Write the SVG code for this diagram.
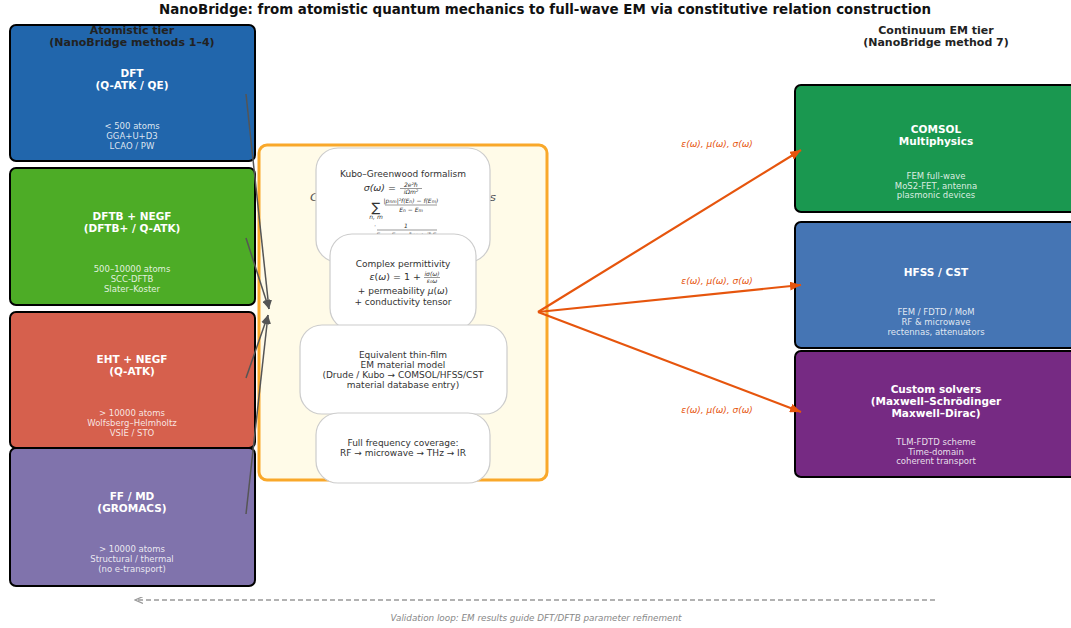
<svg xmlns="http://www.w3.org/2000/svg" width="1071" height="628" viewBox="0 0 1071 628">
<style>
text{font-family:"DejaVu Sans","Liberation Sans",sans-serif}
.title{font-size:13.4px;font-weight:bold;fill:#111}
.hdr{font-size:11px;font-weight:bold;fill:#222}
.bt{font-size:10.5px;font-weight:bold;fill:#fff}
.bs{font-size:8.5px;fill:#fff;fill-opacity:0.85}
.box{stroke:#000;stroke-width:2}
.inner{fill:#fff;stroke:#ccc;stroke-width:1.2}
.it{font-size:9px;fill:#333}
.m{font-size:6px;fill:#333;font-style:italic}
.lab{font-size:9px;fill:#e6550d;font-style:italic}
.gc{stroke:#555;stroke-width:1.5;fill:none}
.oc{stroke:#e6550d;stroke-width:2.2;fill:none}
</style>
<defs>
<marker id="ga" markerUnits="userSpaceOnUse" markerWidth="10" markerHeight="8" refX="9" refY="4" orient="auto"><path d="M0,0 L9,4 L0,8 z" fill="#555"/></marker>
<marker id="oa" markerUnits="userSpaceOnUse" markerWidth="12" markerHeight="9" refX="11" refY="4.5" orient="auto"><path d="M0,0 L11,4.5 L0,9 z" fill="#e6550d"/></marker>
<marker id="da" markerUnits="userSpaceOnUse" markerWidth="9" markerHeight="7" refX="8" refY="3.5" orient="auto"><path d="M0,0 L8,3.5 L0,7" fill="none" stroke="#999" stroke-width="1.2"/></marker>
</defs>
<rect width="1071" height="628" fill="#fff"/>
<text class="title" x="545" y="14" text-anchor="middle">NanoBridge: from atomistic quantum mechanics to full-wave EM via constitutive relation construction</text>

<g id="dft">
<rect class="box" x="10" y="25" width="245" height="136" rx="6" fill="#2166ac"/>
<text class="bt" x="132" y="77" text-anchor="middle">DFT</text>
<text class="bt" x="132" y="89" text-anchor="middle">(Q-ATK / QE)</text>
<text class="bs" x="132" y="129" text-anchor="middle">&lt; 500 atoms</text>
<text class="bs" x="132" y="139" text-anchor="middle">GGA+U+D3</text>
<text class="bs" x="132" y="149" text-anchor="middle">LCAO / PW</text>
</g>
<g id="dftb">
<rect class="box" x="10" y="168" width="245" height="137" rx="6" fill="#4dac26"/>
<text class="bt" x="132" y="220" text-anchor="middle">DFTB + NEGF</text>
<text class="bt" x="132" y="232" text-anchor="middle">(DFTB+ / Q-ATK)</text>
<text class="bs" x="132" y="272" text-anchor="middle">500–10000 atoms</text>
<text class="bs" x="132" y="282" text-anchor="middle">SCC-DFTB</text>
<text class="bs" x="132" y="292" text-anchor="middle">Slater–Koster</text>
</g>
<g id="eht">
<rect class="box" x="10" y="312" width="245" height="136" rx="6" fill="#d6604d"/>
<text class="bt" x="132" y="363" text-anchor="middle">EHT + NEGF</text>
<text class="bt" x="132" y="375" text-anchor="middle">(Q-ATK)</text>
<text class="bs" x="132" y="416" text-anchor="middle">&gt; 10000 atoms</text>
<text class="bs" x="132" y="426" text-anchor="middle">Wolfsberg–Helmholtz</text>
<text class="bs" x="132" y="436" text-anchor="middle">VSIE / STO</text>
</g>
<g id="ffmd">
<rect class="box" x="10" y="448" width="245" height="138" rx="6" fill="#8073ac"/>
<text class="bt" x="132" y="500" text-anchor="middle">FF / MD</text>
<text class="bt" x="132" y="512" text-anchor="middle">(GROMACS)</text>
<text class="bs" x="132" y="552" text-anchor="middle">&gt; 10000 atoms</text>
<text class="bs" x="132" y="562" text-anchor="middle">Structural / thermal</text>
<text class="bs" x="132" y="572" text-anchor="middle">(no e-transport)</text>
</g>
<g id="hdr-left">
<text class="hdr" x="132" y="34" text-anchor="middle">Atomistic tier</text>
<text class="hdr" x="132" y="46" text-anchor="middle">(NanoBridge methods 1–4)</text>
</g>
<g id="hdr-right">
<text class="hdr" x="936" y="34" text-anchor="middle">Continuum EM tier</text>
<text class="hdr" x="936" y="46" text-anchor="middle">(NanoBridge method 7)</text>
</g>

<g id="constitutive">
<rect x="259" y="145" width="288" height="335" rx="8" fill="#fffbe8" stroke="#f9a82a" stroke-width="3"/>
<text x="403" y="201" text-anchor="middle" textLength="186" lengthAdjust="spacingAndGlyphs" style="font-size:10.5px;fill:#555;font-style:italic">Constitutive relation methods</text>
</g>
<g id="kubo">
<rect class="inner" x="316" y="148" width="174" height="114" rx="22"/>
<text class="it" x="403" y="177" text-anchor="middle">Kubo–Greenwood formalism</text>
<text x="396" y="191" text-anchor="end" style="font-size:9.5px;fill:#333;font-style:italic">σ(ω) =</text>
<text class="m" x="411" y="187" text-anchor="middle">2e²ħ</text>
<line x1="400" y1="188.5" x2="422" y2="188.5" stroke="#333" stroke-width="0.5"/>
<text class="m" x="411" y="194" text-anchor="middle">iΩm²</text>
<text x="376" y="212" text-anchor="middle" style="font-size:13px;fill:#333">∑</text>
<text class="m" x="376" y="219" text-anchor="middle">n, m</text>
<text class="m" x="411" y="203" text-anchor="middle">|p<tspan font-size="4.5">nm</tspan>|²f(E<tspan font-size="4.5">n</tspan>) − f(E<tspan font-size="4.5">m</tspan>)</text>
<line x1="385" y1="205" x2="437" y2="205" stroke="#333" stroke-width="0.5"/>
<text class="m" x="411" y="212" text-anchor="middle">E<tspan font-size="4.5">n</tspan> − E<tspan font-size="4.5">m</tspan></text>
<text class="m" x="374" y="228">·</text>
<text class="m" x="406" y="228" text-anchor="middle">1</text>
<line x1="377" y1="230" x2="437" y2="230" stroke="#333" stroke-width="0.5"/>
<text class="m" x="406" y="237" text-anchor="middle">E<tspan font-size="4.5">n</tspan> − E<tspan font-size="4.5">m</tspan> − ħω + iħΓ</text>
</g>
<g id="permittivity">
<rect class="inner" x="330" y="234" width="146" height="96" rx="22"/>
<text class="it" x="403" y="267" text-anchor="middle">Complex permittivity</text>
<text x="421" y="280" text-anchor="end" style="font-size:9.5px;fill:#333"><tspan font-style="italic">ε</tspan>(<tspan font-style="italic">ω</tspan>) = 1 +</text>
<text class="m" x="432" y="276" text-anchor="middle">iσ(ω)</text>
<line x1="424" y1="277.5" x2="440" y2="277.5" stroke="#333" stroke-width="0.5"/>
<text class="m" x="432" y="283" text-anchor="middle">ε₀ω</text>
<text class="it" x="403" y="294" text-anchor="middle">+ permeability  <tspan font-style="italic">μ</tspan>(<tspan font-style="italic">ω</tspan>)</text>
<text class="it" x="403" y="305" text-anchor="middle">+ conductivity tensor</text>
</g>
<g id="equivalent">
<rect class="inner" x="300" y="325" width="207" height="89" rx="22"/>
<text class="it" x="403" y="358" text-anchor="middle">Equivalent thin-film</text>
<text class="it" x="403" y="368" text-anchor="middle">EM material model</text>
<text class="it" x="403" y="378" text-anchor="middle">(Drude / Kubo → COMSOL/HFSS/CST</text>
<text class="it" x="403" y="388" text-anchor="middle">material database entry)</text>
</g>
<g id="frequency">
<rect class="inner" x="316" y="413" width="174" height="70" rx="22"/>
<text class="it" x="403" y="446" text-anchor="middle">Full frequency coverage:</text>
<text class="it" x="403" y="456" text-anchor="middle">RF → microwave → THz → IR</text>
</g>

<g id="comsol">
<rect class="box" x="795" y="85" width="284" height="127" rx="6" fill="#1a9850"/>
<text class="bt" x="936" y="133" text-anchor="middle">COMSOL</text>
<text class="bt" x="936" y="145" text-anchor="middle">Multiphysics</text>
<text class="bs" x="936" y="179" text-anchor="middle">FEM full-wave</text>
<text class="bs" x="936" y="189" text-anchor="middle">MoS2-FET, antenna</text>
<text class="bs" x="936" y="198" text-anchor="middle">plasmonic devices</text>
</g>
<g id="hfss">
<rect class="box" x="795" y="222" width="284" height="126" rx="6" fill="#4575b4"/>
<text class="bt" x="936" y="276" text-anchor="middle">HFSS / CST</text>
<text class="bs" x="936" y="315" text-anchor="middle">FEM / FDTD / MoM</text>
<text class="bs" x="936" y="325" text-anchor="middle">RF &amp; microwave</text>
<text class="bs" x="936" y="335" text-anchor="middle">rectennas, attenuators</text>
</g>
<g id="custom">
<rect class="box" x="795" y="351" width="284" height="126" rx="6" fill="#762a83"/>
<text class="bt" x="936" y="393" text-anchor="middle">Custom solvers</text>
<text class="bt" x="936" y="405" text-anchor="middle">(Maxwell–Schrödinger</text>
<text class="bt" x="936" y="417" text-anchor="middle">Maxwell–Dirac)</text>
<text class="bs" x="936" y="445" text-anchor="middle">TLM-FDTD scheme</text>
<text class="bs" x="936" y="455" text-anchor="middle">Time-domain</text>
<text class="bs" x="936" y="464" text-anchor="middle">coherent transport</text>
</g>

<g id="connectors">
<line class="gc" x1="246" y1="94" x2="269" y2="309" marker-end="url(#ga)"/>
<line class="gc" x1="246" y1="238" x2="269" y2="309" marker-end="url(#ga)"/>
<line class="gc" x1="246" y1="378" x2="268" y2="315" marker-end="url(#ga)"/>
<line class="gc" x1="246" y1="514" x2="268" y2="315" marker-end="url(#ga)"/>
<line class="oc" x1="538" y1="312" x2="801" y2="150" marker-end="url(#oa)"/>
<line class="oc" x1="538" y1="312" x2="801" y2="285" marker-end="url(#oa)"/>
<line class="oc" x1="538" y1="312" x2="801" y2="412" marker-end="url(#oa)"/>
<text class="lab" x="717" y="147" text-anchor="middle">ε(ω), μ(ω), σ(ω)</text>
<text class="lab" x="717" y="284" text-anchor="middle">ε(ω), μ(ω), σ(ω)</text>
<text class="lab" x="717" y="413" text-anchor="middle">ε(ω), μ(ω), σ(ω)</text>
<line x1="935" y1="600" x2="135" y2="600" stroke="#999" stroke-width="1.5" stroke-dasharray="5,3" marker-end="url(#da)"/>
<text x="536" y="621" text-anchor="middle" style="font-size:8.8px;fill:#888;font-style:italic">Validation loop: EM results guide DFT/DFTB parameter refinement</text>
</g>
</svg>
